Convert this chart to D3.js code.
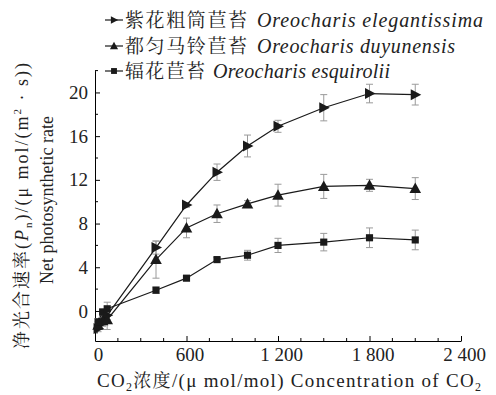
<!DOCTYPE html>
<html><head><meta charset="utf-8">
<script src="https://cdn.jsdelivr.net/npm/d3@7"></script>
<style>
html,body{margin:0;padding:0;background:#fff;}
svg{display:block;}
</style></head>
<body><svg id="c" width="496" height="395"></svg>
<script>
// ---- data ----
const co2 = [20, 50, 80, 400, 600, 800, 1000, 1200, 1500, 1800, 2100];
const elegantissima = [-1.6, -1.1, -0.4, 5.8, 9.7, 12.7, 15.1, 16.9, 18.6, 19.9, 19.8];
const elegantissimaErr = [0.3, 0.3, 0.4, 0.6, 0.2, 0.75, 1.0, 0.55, 1.2, 0.85, 0.95];
const duyunensis = [-1.3, -0.9, -0.8, 4.7, 7.6, 8.9, 9.8, 10.6, 11.4, 11.5, 11.2];
const duyunensisErr = [0.3, 0.4, 0.9, 1.7, 0.9, 0.8, 0.3, 1.0, 1.1, 0.55, 1.0];
const esquirolii = [-1.0, -0.1, 0.2, 1.9, 3.0, 4.7, 5.1, 6.0, 6.3, 6.7, 6.5];
const esquiroliiErr = [0.3, 0.3, 0.6, 0.3, 0.2, 0.2, 0.45, 0.65, 0.8, 0.9, 0.9];
const seriesNames = ["紫花粗筒苣苔", "都匀马铃苣苔", "辐花苣苔"];
const seriesLatin = ["Oreocharis elegantissima", "Oreocharis duyunensis", "Oreocharis esquirolii"];
const xTicks = [0, 600, 1200, 1800, 2400];
const xTickLabels = ["0", "600", "1 200", "1 800", "2 400"];
const yTicks = [0, 4, 8, 12, 16, 20];

const series = [
  {name: seriesNames[0], latin: seriesLatin[0], vals: elegantissima, err: elegantissimaErr, sym: "right"},
  {name: seriesNames[1], latin: seriesLatin[1], vals: duyunensis, err: duyunensisErr, sym: "up"},
  {name: seriesNames[2], latin: seriesLatin[2], vals: esquirolii, err: esquiroliiErr, sym: "square"}
];

const SERIF = "'Liberation Serif', 'Times New Roman', serif";
const CJK = "'Noto Serif CJK SC', 'Noto Sans CJK SC', serif";

const svg = d3.select("#c");
const x = d3.scaleLinear().domain([0, 2400]).range([95, 461]);
const y = d3.scaleLinear().domain([-2.75, 22]).range([341, 70.6]);

const lineCol = "#1a1a1a";
const errCol = "#9a9a9a";
const txtCol = "#222";

// axes
const xMinor = d3.range(0, 2401, 150).filter(v => v % 600 !== 0);
const yMinor = d3.range(-2, 23, 4);

const gx = svg.append("g").attr("transform", `translate(0,${y.range()[0]})`);
gx.call(d3.axisBottom(x).tickValues(xTicks).tickFormat((d,i)=>xTickLabels[i]).tickSize(-5).tickSizeOuter(0).tickPadding(7));
gx.selectAll(".minor").data(xMinor).enter().append("line")
  .attr("x1", d=>x(d)).attr("x2", d=>x(d)).attr("y1", 0).attr("y2", -3).attr("stroke", "#000");

const gy = svg.append("g").attr("transform", `translate(${x.range()[0]},0)`);
gy.call(d3.axisLeft(y).tickValues(yTicks).tickSize(-5).tickSizeOuter(0).tickPadding(7));
gy.selectAll(".minor").data(yMinor).enter().append("line")
  .attr("y1", d=>y(d)).attr("y2", d=>y(d)).attr("x1", 0).attr("x2", 3).attr("stroke", "#000");

svg.selectAll(".tick text").style("font-family", SERIF).style("font-size", "19px").attr("fill", txtCol);
gx.selectAll(".tick text").attr("dx", 3);
svg.selectAll(".domain, .tick line").attr("stroke", "#000").attr("stroke-width", 1);

// symbols
function symbolPath(sym, s) {
  if (sym === "right") return `M${-s*0.45},${-s*0.55}L${s*0.6},0L${-s*0.45},${s*0.55}Z`;
  if (sym === "up") return `M0,${-s*0.6}L${s*0.58},${s*0.45}L${-s*0.58},${s*0.45}Z`;
  return `M${-s*0.42},${-s*0.42}H${s*0.42}V${s*0.42}H${-s*0.42}Z`;
}

const plot = svg.append("g");
// error bars
series.forEach(sr => {
  const g = plot.append("g").attr("stroke", errCol).attr("stroke-width", 1);
  co2.forEach((c, i) => {
    const cx = x(c), y1 = y(sr.vals[i] + sr.err[i]), y2 = y(sr.vals[i] - sr.err[i]);
    g.append("line").attr("x1", cx).attr("x2", cx).attr("y1", y1).attr("y2", y2);
    g.append("line").attr("x1", cx-3.5).attr("x2", cx+3.5).attr("y1", y1).attr("y2", y1);
    g.append("line").attr("x1", cx-3.5).attr("x2", cx+3.5).attr("y1", y2).attr("y2", y2);
  });
});
// lines
const line = d3.line().x((d,i)=>x(co2[i])).y(d=>y(d));
series.forEach(sr => {
  plot.append("path").attr("d", line(sr.vals)).attr("fill", "none").attr("stroke", lineCol).attr("stroke-width", 1.2);
});
// markers
series.forEach(sr => {
  plot.append("g").selectAll("path").data(sr.vals).enter().append("path")
    .attr("transform", (d,i)=>`translate(${x(co2[i])},${y(d)})`)
    .attr("d", symbolPath(sr.sym, sr.sym === "square" ? 8.5 : 10))
    .attr("fill", lineCol);
});

// legend
const legY = [20, 46, 71];
const cjkW = [122, 122, 80];
const latinX = [257, 257, 213];
const latinW = [226, 198, 177];
series.forEach((sr, i) => {
  const g = svg.append("g");
  g.append("line").attr("x1", 105).attr("x2", 123).attr("y1", legY[i]).attr("y2", legY[i])
    .attr("stroke", lineCol).attr("stroke-width", 1.2);
  g.append("path").attr("transform", `translate(114,${legY[i]})`).attr("d", symbolPath(sr.sym, 7)).attr("fill", lineCol);
  g.append("text").attr("x", 125).attr("y", legY[i]).attr("dy", "0.36em")
    .style("font-family", CJK).style("font-size", "19px").attr("fill", txtCol)
    .attr("textLength", cjkW[i]).attr("lengthAdjust", "spacing").text(sr.name);
  g.append("text").attr("x", latinX[i]).attr("y", legY[i]).attr("dy", "0.33em")
    .style("font-family", SERIF).style("font-size", "20px").style("font-style", "italic").attr("fill", txtCol)
    .attr("textLength", latinW[i]).attr("lengthAdjust", "spacing").text(sr.latin);
});

// x title
const xt = svg.append("text").attr("x", 97).attr("y", 380).attr("dy", "0.35em")
  .style("font-family", SERIF).style("font-size", "19px").attr("fill", txtCol)
  .attr("textLength", 384).attr("lengthAdjust", "spacing");
xt.append("tspan").text("CO");
xt.append("tspan").style("font-size", "12px").attr("dy", 4).text("2");
xt.append("tspan").attr("dy", -4).style("font-family", CJK).style("font-size", "18px").text("浓度");
xt.append("tspan").text("/(μ mol/mol)  Concentration of CO");
xt.append("tspan").style("font-size", "12px").attr("dy", 4).text("2");

// y title
const yt1 = svg.append("text").attr("transform", "translate(22,206) rotate(-90)")
  .attr("text-anchor", "middle").attr("dy", "0.35em")
  .style("font-family", SERIF).style("font-size", "18px").attr("fill", txtCol)
  .attr("textLength", 286).attr("lengthAdjust", "spacing");
yt1.append("tspan").style("font-family", CJK).text("净光合速率");
yt1.append("tspan").text("(");
yt1.append("tspan").style("font-style", "italic").text("P");
yt1.append("tspan").style("font-size", "11px").attr("dy", 4).text("n");
yt1.append("tspan").attr("dy", -4).text(")/(μ mol/(m");
yt1.append("tspan").style("font-size", "11px").attr("dy", -7).text("2");
yt1.append("tspan").attr("dy", 7).text(" · s))");

svg.append("text").attr("transform", "translate(47,200) rotate(-90)")
  .attr("text-anchor", "middle").attr("dy", "0.35em")
  .style("font-family", SERIF).style("font-size", "18px").attr("fill", txtCol)
  .text("Net photosynthetic rate");
</script></body></html>
